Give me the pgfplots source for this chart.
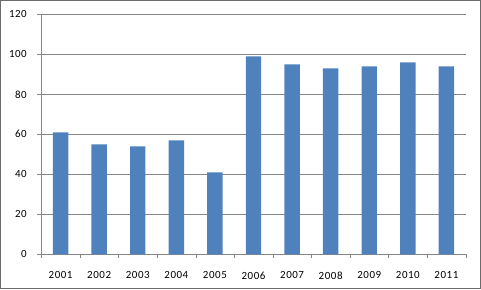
\documentclass[border=0pt]{standalone}
\usepackage{pgfplots}
\pgfplotsset{compat=1.18}
\usepackage{fontspec}
\setmainfont{Carlito}
\definecolor{barblue}{HTML}{4F81BD}
\definecolor{axgray}{HTML}{868686}
\begin{document}
\begin{tikzpicture}[x=1bp,y=1bp]
\draw[axgray!80!black, line width=1bp] (0.5,0.5) rectangle (480.5,288.5);
\begin{axis}[
  at={(41.3bp,34.7bp)}, anchor=south west,
  scale only axis, width=424.4bp, height=240bp,
  xmin=0.5, xmax=11.5, ymin=0, ymax=120,
  ytick={0,20,...,120},
  xtick={1,...,11},
  xticklabels={2001,2002,2003,2004,2005,2006,2007,2008,2009,2010,2011},
  major x tick style={draw=none},
  extra x ticks={0.5,1.5,...,11.5},
  extra x tick labels={},
  extra x tick style={grid=none, major tick length=4bp, tick align=outside, major x tick style={draw=axgray}},
  axis x line=bottom, axis y line=left,
  axis line style={draw=axgray, -},
  ymajorgrids, grid style={axgray, line width=0.8bp},
  major tick length=4bp, tick align=outside,
  tick style={axgray},
  ticklabel style={font=\fontsize{11}{13}\selectfont\addfontfeatures{LetterSpace=5}, text=black},
  /pgf/number format/assume math mode=true,
  xticklabel shift=10bp,
  yticklabel shift=7bp,
  ybar, bar width=15.4bp,
]
\addplot[fill=barblue, draw=none] coordinates {
 (1,61) (2,55) (3,54) (4,57) (5,41) (6,99) (7,95) (8,93) (9,94) (10,96) (11,94)
};
\end{axis}
\end{tikzpicture}
\end{document}
